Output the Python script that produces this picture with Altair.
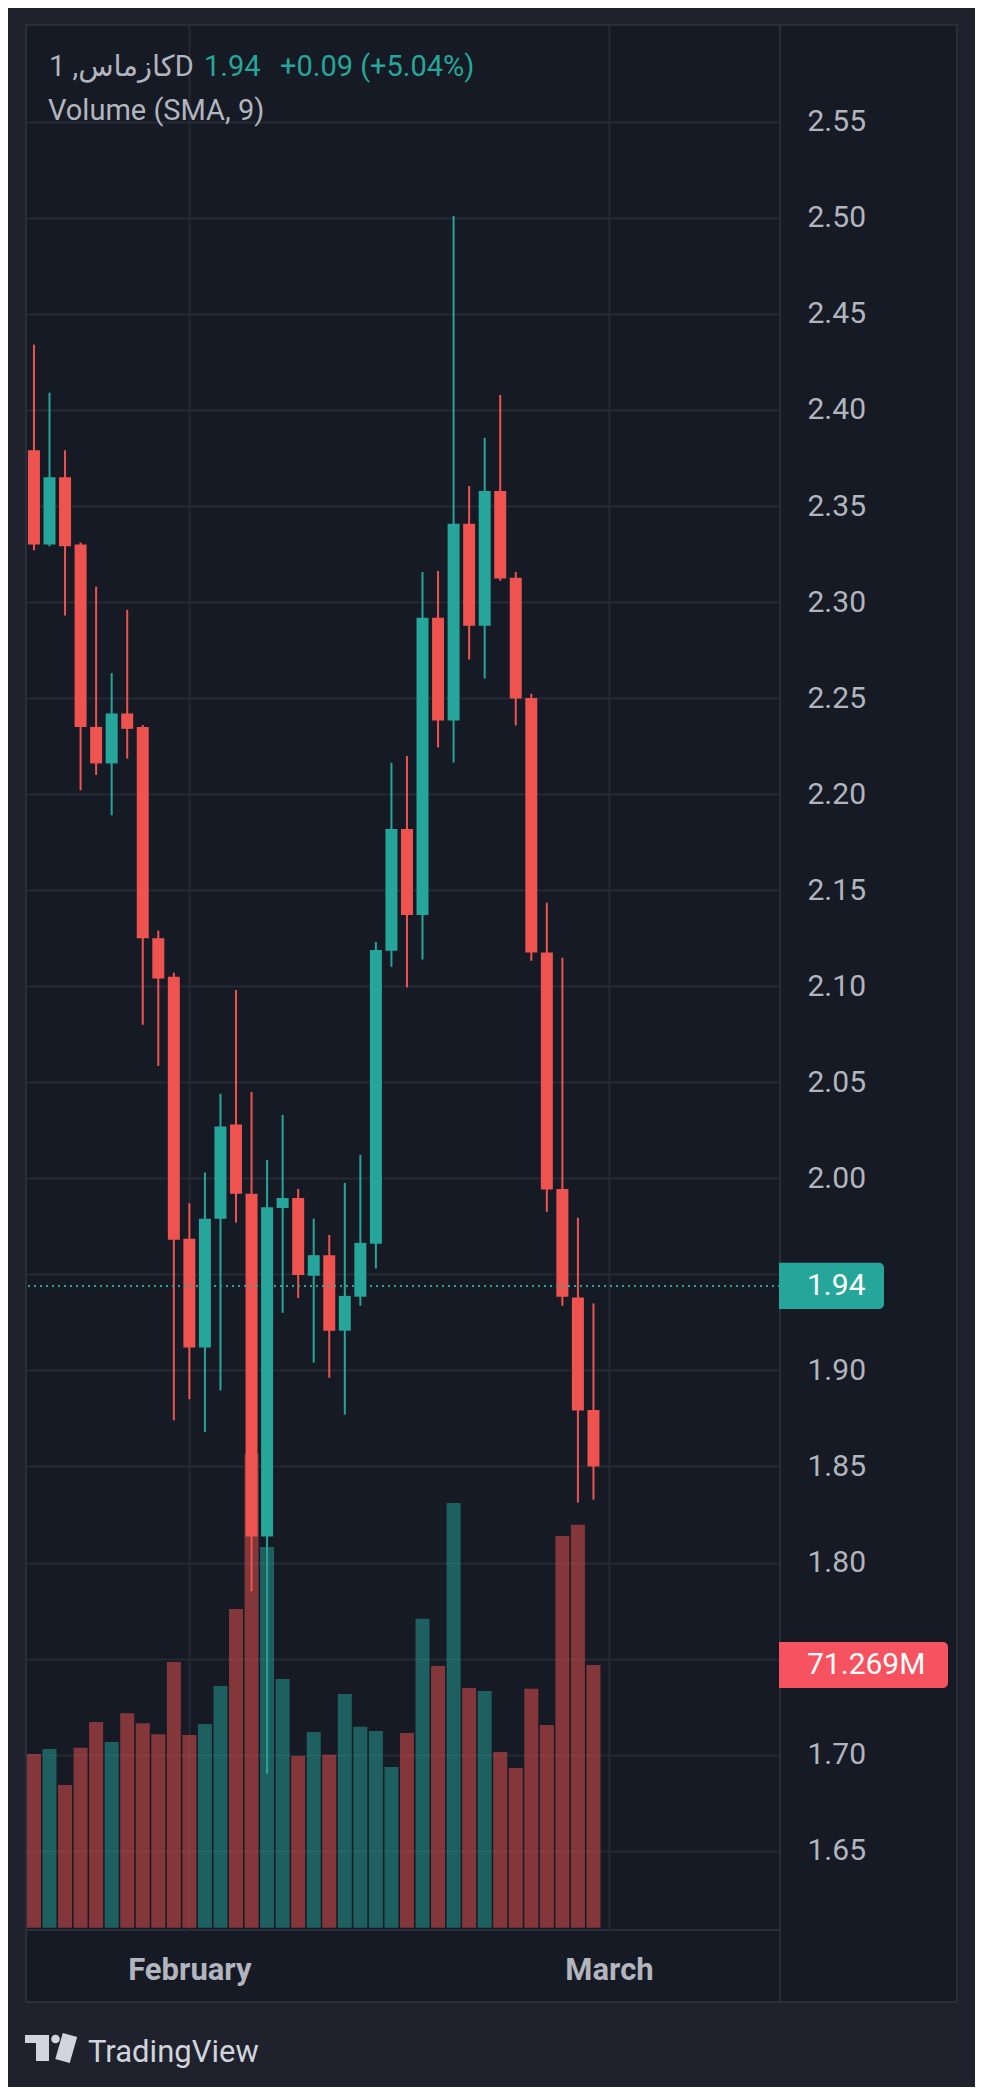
import altair as alt
import pandas as pd

# ---------------- data ----------------
opens = [2.379, 2.330, 2.365, 2.330, 2.235, 2.216, 2.242, 2.235, 2.125, 2.105,
         1.9685, 1.912, 1.979, 2.028, 1.992, 1.8135, 1.9846, 1.9898, 1.9493, 1.960,
         1.9207, 1.9384, 1.966, 2.1185, 2.1819, 2.1371, 2.2918, 2.2383, 2.3407, 2.2877,
         2.3578, 2.3126, 2.2501, 2.1176, 1.9945, 1.938, 1.8794]
highs = [2.434, 2.409, 2.379, 2.331, 2.308, 2.263, 2.296, 2.236, 2.129, 2.107,
         1.987, 2.003, 2.044, 2.098, 2.045, 2.0096, 2.033, 1.9945, 1.979, 1.9705,
         1.9976, 2.0122, 2.123, 2.2163, 2.2199, 2.3157, 2.3162, 2.501, 2.3604, 2.3855,
         2.4078, 2.3157, 2.2522, 2.1434, 2.1148, 1.9795, 1.9349]
lows = [2.327, 2.329, 2.293, 2.202, 2.210, 2.189, 2.2185, 2.080, 2.0585, 1.874,
        1.885, 1.868, 1.8895, 1.977, 1.785, 1.690, 1.930, 1.9377, 1.904, 1.8962,
        1.877, 1.9337, 1.953, 2.1101, 2.0994, 2.1139, 2.2243, 2.2165, 2.2701, 2.2602,
        2.3111, 2.2357, 2.1133, 1.9826, 1.9337, 1.8312, 1.8327]
closes = [2.330, 2.365, 2.329, 2.235, 2.216, 2.242, 2.234, 2.125, 2.104, 1.968,
          1.912, 1.979, 2.027, 1.992, 1.8135, 1.985, 1.9898, 1.9497, 1.960, 1.9207,
          1.9388, 1.9664, 2.1189, 2.1819, 2.1371, 2.2918, 2.2383, 2.3407, 2.2877, 2.3578,
          2.3122, 2.2498, 2.1176, 1.9942, 1.9383, 1.8791, 1.850]
volumes_m = [47.1, 48.5, 38.7, 48.8, 55.8, 50.4, 58.2, 55.5, 52.5, 72.1,
             52.3, 55.3, 65.6, 86.5, 128.5, 103.3, 67.5, 46.6, 53.1, 46.9,
             63.4, 54.5, 53.4, 43.6, 52.8, 83.8, 71.0, 115.2, 65.0, 64.2,
             47.7, 43.3, 64.8, 55.0, 106.3, 109.3, 71.269]

price_ticks = [1.65, 1.70, 1.75, 1.80, 1.85, 1.90, 1.95, 2.00, 2.05, 2.10,
               2.15, 2.20, 2.25, 2.30, 2.35, 2.40, 2.45, 2.50, 2.55]
hidden_price_ticks = [1.75, 1.95]
month_positions = [11, 38]
month_names = ["February", "March"]

symbol_text = "كازماس, 1D"
last_price_text = "1.94"
change_text = "+0.09 (+5.04%)"
volume_title = "Volume (SMA, 9)"
last_price = 1.944
last_volume = 71.269
last_volume_text = "71.269M"
brand_text = "TradingView"

# ---------------- styling ----------------
UP = "#26A69A"
DOWN = "#EF5350"
INNER = "#161A25"
OUTER = "#1F222D"
LINE = "#2A2E39"
GRID = "#252934"
TXT = "#B2B5BE"
FONT = "Roboto, 'DejaVu Sans', sans-serif"

W, H = 754, 1905

df = pd.DataFrame({
    "i": list(range(1, len(opens) + 1)),
    "open": opens, "high": highs, "low": lows, "close": closes,
    "vol": volumes_m,
})
df["dir"] = ["up" if c >= o else "down" for o, c in zip(opens, closes)]
df["base"] = 0.0

color = alt.Color("dir:N", scale=alt.Scale(domain=["up", "down"], range=[UP, DOWN]), legend=None)

month_expr = " : ".join(
    [f"datum.value == {p} ? '{n}'" for p, n in zip(month_positions[:-1], month_names[:-1])]
    + [f"'{month_names[-1]}'"]
)
X = alt.X(
    "i:Q",
    scale=alt.Scale(domain=[0.8095, 48.68], nice=False, zero=False),
    axis=alt.Axis(
        orient="bottom", values=month_positions, labelExpr=month_expr,
        grid=True, gridColor=GRID, gridWidth=2, ticks=False, tickSize=0, domain=False,
        labelPadding=49, labelBaseline="alphabetic", labelFontSize=31, labelFont=FONT,
        labelFontWeight="bold", labelColor=TXT, labelFlush=False, title=None,
    ),
)

hide_expr = " || ".join([f"datum.value == {v}" for v in hidden_price_ticks])
price_scale = alt.Scale(domain=[1.6087, 2.6004], nice=False, zero=False)
price_axis = alt.Axis(
    orient="right", values=price_ticks,
    labelExpr=f"{hide_expr} ? '' : format(datum.value, '.2f')",
    grid=True, gridColor=GRID, gridWidth=2, ticks=False, tickSize=0, domain=False,
    labelPadding=27, labelAlign="left", labelBaseline="middle", labelFontSize=30,
    labelFont=FONT, labelColor=TXT, labelOverlap=False, title=None,
)

# ---------------- price pane ----------------
base = alt.Chart(df)
wicks = base.mark_rule(strokeWidth=2, clip=True).encode(
    x=X, y=alt.Y("low:Q", scale=price_scale, axis=price_axis), y2="high:Q", color=color
)
bodies = base.mark_bar(size=12, clip=True).encode(
    x=X, y=alt.Y("open:Q", scale=price_scale, axis=price_axis), y2="close:Q", color=color
)
last_df = pd.DataFrame({"p": [last_price], "top": [last_price + 0.012],
                        "bot": [last_price - 0.012], "t": [last_price_text]})
dotted = alt.Chart(last_df).mark_rule(color=UP, strokeWidth=2, strokeDash=[2, 4]).encode(
    y=alt.Y("p:Q", scale=price_scale, axis=price_axis)
)
price_box = alt.Chart(last_df).mark_rect(
    color=UP, cornerRadiusTopRight=5, cornerRadiusBottomRight=5
).encode(
    x=alt.value(753), x2=alt.value(858),
    y=alt.Y("top:Q", scale=price_scale, axis=price_axis), y2="bot:Q",
)
price_box_text = alt.Chart(last_df).mark_text(
    align="left", baseline="middle", fontSize=30, font=FONT, color="#FFFFFF"
).encode(x=alt.value(781), y=alt.Y("p:Q", scale=price_scale, axis=price_axis), text="t:N")

price_group = alt.layer(wicks, bodies, dotted, price_box, price_box_text)

# ---------------- volume pane ----------------
vol_scale = alt.Scale(domain=[-0.62, 516.2], nice=False, zero=False)
vol_bars = base.mark_bar(size=14, opacity=0.5, clip=True).encode(
    x=X, y=alt.Y("vol:Q", scale=vol_scale, axis=None), y2="base:Q", color=color
)
vlast_df = pd.DataFrame({"v": [last_volume], "top": [last_volume + 6.24],
                         "bot": [last_volume - 6.24], "t": [last_volume_text]})
vol_box = alt.Chart(vlast_df).mark_rect(
    color="#F7525F", cornerRadiusTopRight=5, cornerRadiusBottomRight=5
).encode(
    x=alt.value(753), x2=alt.value(922),
    y=alt.Y("top:Q", scale=vol_scale, axis=None), y2="bot:Q",
)
vol_box_text = alt.Chart(vlast_df).mark_text(
    align="left", baseline="middle", fontSize=30, font=FONT, color="#FFFFFF"
).encode(x=alt.value(781), y=alt.Y("v:Q", scale=vol_scale, axis=None), text="t:N")

vol_group = alt.layer(vol_bars, vol_box, vol_box_text)

# ---------------- frame & texts ----------------
one = pd.DataFrame({"k": [0]})


def rect(x, x2, y, y2, **kw):
    return alt.Chart(one).mark_rect(**kw).encode(
        x=alt.value(x), x2=alt.value(x2), y=alt.value(y), y2=alt.value(y2)
    )


def text(s, x, y, **kw):
    return alt.Chart(pd.DataFrame({"t": [s]})).mark_text(
        align="left", baseline="alphabetic", font=FONT, **kw
    ).encode(x=alt.value(x), y=alt.value(y), text="t:N")


strips = [
    rect(-18, 949, -17, 0, color=OUTER),
    rect(-18, 0, -17, 2062, color=OUTER),
    rect(931, 949, -17, 2062, color=OUTER),
    rect(-18, 949, 1977, 2062, color=OUTER),
]
frame = rect(0, 931, 0, 1977, fillOpacity=0, stroke=LINE, strokeWidth=2)
sep = alt.Chart(one).mark_rule(color=LINE, strokeWidth=2).encode(
    x=alt.value(754), y=alt.value(1905), y2=alt.value(1977)
)

header = [
    text(symbol_text, 23, 51, fontSize=29, color=TXT),
    text(last_price_text, 178, 51, fontSize=29, color=UP),
    text(change_text, 254, 51, fontSize=29, color=UP),
    text(volume_title, 22, 95, fontSize=29, color=TXT),
]

logo = [
    rect(-1, 23, 2010, 2018, color="#D1D4DC"),
    rect(10, 23, 2018, 2036, color="#D1D4DC"),
    alt.Chart(one).mark_circle(size=75, opacity=1, color="#D1D4DC").encode(
        x=alt.value(29.5), y=alt.value(2014)
    ),
    alt.Chart(one).mark_rule(color="#D1D4DC", strokeWidth=15, strokeCap="butt").encode(
        x=alt.value(44), x2=alt.value(36.5), y=alt.value(2010), y2=alt.value(2036)
    ),
    text(brand_text, 62, 2037, fontSize=31, color="#D1D4DC"),
]

deco = alt.layer(*strips, frame, sep, *header, *logo)

chart = alt.layer(vol_group, price_group, deco).resolve_scale(y="independent").properties(
    width=W, height=H,
    autosize=alt.AutoSizeParams(type="none"),
    padding={"left": 18, "top": 17, "right": 195, "bottom": 157},
    background=INNER,
).configure_view(fill=INNER, stroke=LINE, strokeWidth=2)

chart.save("out.html", embed_options={"renderer": "svg", "actions": False})
